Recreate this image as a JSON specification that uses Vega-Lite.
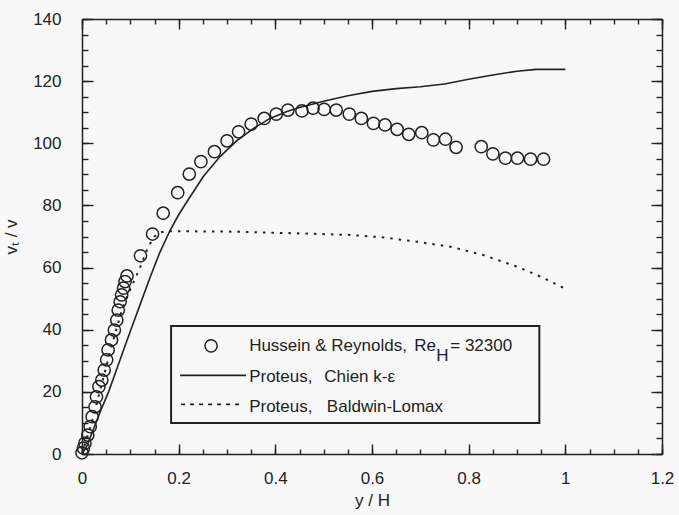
{
  "$schema": "https://vega.github.io/schema/vega-lite/v6.json",
  "width": 580,
  "height": 435,
  "autosize": "none",
  "padding": {"left": 82, "top": 19, "right": 17, "bottom": 61},
  "background": "#f8f8f8",
  "config": {
    "view": {"stroke": null},
    "axis": {
      "grid": false,
      "domainColor": "#222",
      "domainWidth": 1.5,
      "tickColor": "#222",
      "tickWidth": 1.4,
      "labelFont": "Liberation Sans",
      "labelFontSize": 17,
      "labelColor": "#222",
      "titleFont": "Liberation Sans",
      "titleFontSize": 17,
      "titleFontWeight": "normal",
      "titleColor": "#222",
      "labelFlush": false,
      "labelOverlap": false
    }
  },
  "datasets": {
    "hr": [
      {"x": 0.0, "y": 0.4}, {"x": 0.003, "y": 1.9}, {"x": 0.006, "y": 3.5}, {"x": 0.012, "y": 6.1},
      {"x": 0.017, "y": 8.8}, {"x": 0.021, "y": 12.0}, {"x": 0.027, "y": 15.2}, {"x": 0.030, "y": 18.4},
      {"x": 0.035, "y": 21.7}, {"x": 0.041, "y": 23.8}, {"x": 0.046, "y": 27.0}, {"x": 0.051, "y": 30.3},
      {"x": 0.054, "y": 33.5}, {"x": 0.061, "y": 36.7}, {"x": 0.067, "y": 39.9}, {"x": 0.072, "y": 43.1},
      {"x": 0.075, "y": 46.3}, {"x": 0.079, "y": 49.0}, {"x": 0.082, "y": 51.2}, {"x": 0.086, "y": 53.4},
      {"x": 0.089, "y": 55.5}, {"x": 0.093, "y": 57.3}, {"x": 0.121, "y": 63.8}, {"x": 0.146, "y": 70.8},
      {"x": 0.168, "y": 77.5}, {"x": 0.198, "y": 84.1}, {"x": 0.222, "y": 90.1}, {"x": 0.246, "y": 94.1},
      {"x": 0.274, "y": 97.3}, {"x": 0.300, "y": 100.8}, {"x": 0.324, "y": 103.7}, {"x": 0.350, "y": 106.2},
      {"x": 0.377, "y": 108.0}, {"x": 0.402, "y": 109.4}, {"x": 0.426, "y": 110.7}, {"x": 0.455, "y": 110.4},
      {"x": 0.478, "y": 111.3}, {"x": 0.501, "y": 110.9}, {"x": 0.526, "y": 110.7}, {"x": 0.553, "y": 109.4},
      {"x": 0.578, "y": 108.0}, {"x": 0.603, "y": 106.4}, {"x": 0.627, "y": 105.9}, {"x": 0.652, "y": 104.5},
      {"x": 0.676, "y": 102.9}, {"x": 0.703, "y": 103.4}, {"x": 0.727, "y": 101.1}, {"x": 0.752, "y": 101.3},
      {"x": 0.774, "y": 98.7}, {"x": 0.826, "y": 98.9}, {"x": 0.850, "y": 96.6}, {"x": 0.876, "y": 95.2},
      {"x": 0.901, "y": 95.2}, {"x": 0.928, "y": 94.9}, {"x": 0.955, "y": 94.9}
    ],
    "chien": [
      {"x": 0.0, "y": 0.0}, {"x": 0.01, "y": 2.5}, {"x": 0.02, "y": 6.5}, {"x": 0.03, "y": 10.5},
      {"x": 0.04, "y": 14.5}, {"x": 0.055, "y": 20.0}, {"x": 0.078, "y": 30.0}, {"x": 0.1, "y": 39.5},
      {"x": 0.12, "y": 48.0}, {"x": 0.14, "y": 56.5}, {"x": 0.16, "y": 64.5}, {"x": 0.181, "y": 71.6},
      {"x": 0.2, "y": 77.0}, {"x": 0.217, "y": 81.2}, {"x": 0.251, "y": 89.3}, {"x": 0.286, "y": 95.8},
      {"x": 0.32, "y": 100.8}, {"x": 0.355, "y": 104.8}, {"x": 0.389, "y": 108.0}, {"x": 0.424, "y": 110.2},
      {"x": 0.45, "y": 111.5}, {"x": 0.5, "y": 113.5}, {"x": 0.55, "y": 115.3}, {"x": 0.6, "y": 116.7},
      {"x": 0.65, "y": 117.6}, {"x": 0.7, "y": 118.2}, {"x": 0.75, "y": 119.1}, {"x": 0.8, "y": 120.6},
      {"x": 0.85, "y": 122.0}, {"x": 0.9, "y": 123.2}, {"x": 0.94, "y": 123.8}, {"x": 1.0, "y": 123.8}
    ],
    "bl": [
      {"x": 0.0, "y": 0.0}, {"x": 0.01, "y": 5.0}, {"x": 0.02, "y": 10.0}, {"x": 0.03, "y": 16.0},
      {"x": 0.04, "y": 22.0}, {"x": 0.05, "y": 28.0}, {"x": 0.06, "y": 34.0}, {"x": 0.07, "y": 39.5},
      {"x": 0.08, "y": 45.0}, {"x": 0.09, "y": 49.5}, {"x": 0.1, "y": 53.0}, {"x": 0.11, "y": 56.5},
      {"x": 0.12, "y": 60.0}, {"x": 0.137, "y": 66.7}, {"x": 0.15, "y": 70.0}, {"x": 0.16, "y": 71.3},
      {"x": 0.175, "y": 71.7}, {"x": 0.3, "y": 71.6}, {"x": 0.45, "y": 71.0}, {"x": 0.555, "y": 70.5},
      {"x": 0.624, "y": 69.7}, {"x": 0.693, "y": 68.3}, {"x": 0.762, "y": 66.7}, {"x": 0.831, "y": 64.0},
      {"x": 0.9, "y": 60.3}, {"x": 0.95, "y": 57.0}, {"x": 1.0, "y": 53.2}
    ],
    "box": [{"x": 0.1843, "x2": 0.9462, "y": 41.2, "y2": 10.0}],
    "solidSample": [{"x": 0.203, "x2": 0.3395, "y": 25.3}],
    "dotSample": [{"x": 0.205, "x2": 0.325, "y": 16.0}],
    "symSample": [{"x": 0.267, "y": 34.8}],
    "texts": [
      {"x": 0.3458, "y": 34.6, "t": "Hussein & Reynolds,"},
      {"x": 0.6874, "y": 34.6, "t": "Re"},
      {"x": 0.7329, "y": 31.4, "t": "H"},
      {"x": 0.7619, "y": 34.6, "t": "= 32300"},
      {"x": 0.3458, "y": 24.9, "t": "Proteus,"},
      {"x": 0.501, "y": 24.9, "t": "Chien k-ε"},
      {"x": 0.3458, "y": 15.0, "t": "Proteus,"},
      {"x": 0.5066, "y": 15.0, "t": "Baldwin-Lomax"}
    ]
  },
  "resolve": {"axis": {"x": "independent", "y": "independent"}},
  "layer": [
    {
      "data": {"name": "chien"},
      "mark": {"type": "line", "color": "#222", "strokeWidth": 1.6},
      "encoding": {
        "x": {"field": "x", "type": "quantitative", "scale": {"domain": [0, 1.2], "nice": false, "zero": false},
          "axis": {"orient": "bottom", "values": [0, 0.2, 0.4, 0.6, 0.8, 1, 1.2], "format": "~g", "tickSize": -10, "labelPadding": 26, "title": "y / H", "titleY": 38}},
        "y": {"field": "y", "type": "quantitative", "scale": {"domain": [0, 140], "nice": false, "zero": false},
          "axis": {"orient": "left", "values": [0, 20, 40, 60, 80, 100, 120, 140], "format": "d", "tickSize": -11, "labelPadding": 32, "title": "vₜ / v", "titleX": -62}}
      }
    },
    {
      "data": {"name": "bl"},
      "mark": {"type": "line", "color": "#222", "strokeWidth": 2, "strokeDash": [2.5, 6]},
      "encoding": {
        "x": {"field": "x", "type": "quantitative", "scale": {"domain": [0, 1.2], "nice": false, "zero": false},
          "axis": {"orient": "bottom", "values": [0, 0.05, 0.1, 0.15, 0.2, 0.25, 0.3, 0.35, 0.4, 0.45, 0.5, 0.55, 0.6, 0.65, 0.7, 0.75, 0.8, 0.85, 0.9, 0.95, 1, 1.05, 1.1, 1.15, 1.2], "tickSize": -5, "labels": false, "domain": false, "title": null}},
        "y": {"field": "y", "type": "quantitative", "scale": {"domain": [0, 140], "nice": false, "zero": false},
          "axis": {"orient": "left", "values": [0, 5, 10, 15, 20, 25, 30, 35, 40, 45, 50, 55, 60, 65, 70, 75, 80, 85, 90, 95, 100, 105, 110, 115, 120, 125, 130, 135, 140], "tickSize": -6, "labels": false, "domain": false, "title": null}}
      }
    },
    {
      "data": {"name": "hr"},
      "mark": {"type": "point", "shape": "circle", "filled": false, "color": "#222", "size": 150, "strokeWidth": 1.5, "opacity": 1},
      "encoding": {
        "x": {"field": "x", "type": "quantitative", "scale": {"domain": [0, 1.2], "nice": false, "zero": false},
          "axis": {"orient": "top", "values": [0, 0.2, 0.4, 0.6, 0.8, 1, 1.2], "tickSize": -10, "labels": false, "title": null}},
        "y": {"field": "y", "type": "quantitative", "scale": {"domain": [0, 140], "nice": false, "zero": false},
          "axis": {"orient": "right", "values": [0, 20, 40, 60, 80, 100, 120, 140], "tickSize": -11, "labels": false, "title": null}}
      }
    },
    {
      "data": {"name": "box"},
      "mark": {"type": "rect", "fill": "#f8f8f8", "stroke": "#222", "strokeWidth": 2},
      "encoding": {
        "x": {"field": "x", "type": "quantitative", "scale": {"domain": [0, 1.2], "nice": false, "zero": false},
          "axis": {"orient": "top", "values": [0, 0.05, 0.1, 0.15, 0.2, 0.25, 0.3, 0.35, 0.4, 0.45, 0.5, 0.55, 0.6, 0.65, 0.7, 0.75, 0.8, 0.85, 0.9, 0.95, 1, 1.05, 1.1, 1.15, 1.2], "tickSize": -5, "labels": false, "domain": false, "title": null}},
        "x2": {"field": "x2"},
        "y": {"field": "y", "type": "quantitative", "scale": {"domain": [0, 140], "nice": false, "zero": false},
          "axis": {"orient": "right", "values": [0, 5, 10, 15, 20, 25, 30, 35, 40, 45, 50, 55, 60, 65, 70, 75, 80, 85, 90, 95, 100, 105, 110, 115, 120, 125, 130, 135, 140], "tickSize": -6, "labels": false, "domain": false, "title": null}},
        "y2": {"field": "y2"}
      }
    },
    {
      "data": {"name": "solidSample"},
      "mark": {"type": "rule", "color": "#222", "strokeWidth": 1.6},
      "encoding": {
        "x": {"field": "x", "type": "quantitative", "axis": null},
        "x2": {"field": "x2"},
        "y": {"field": "y", "type": "quantitative", "axis": null}
      }
    },
    {
      "data": {"name": "dotSample"},
      "mark": {"type": "rule", "color": "#222", "strokeWidth": 1.8, "strokeDash": [4, 5]},
      "encoding": {
        "x": {"field": "x", "type": "quantitative", "axis": null},
        "x2": {"field": "x2"},
        "y": {"field": "y", "type": "quantitative", "axis": null}
      }
    },
    {
      "data": {"name": "symSample"},
      "mark": {"type": "point", "shape": "circle", "filled": false, "color": "#222", "size": 150, "strokeWidth": 1.5, "opacity": 1},
      "encoding": {
        "x": {"field": "x", "type": "quantitative", "axis": null},
        "y": {"field": "y", "type": "quantitative", "axis": null}
      }
    },
    {
      "data": {"name": "texts"},
      "mark": {"type": "text", "align": "left", "baseline": "middle", "font": "Liberation Sans", "fontSize": 17, "color": "#222"},
      "encoding": {
        "x": {"field": "x", "type": "quantitative", "axis": null},
        "y": {"field": "y", "type": "quantitative", "axis": null},
        "text": {"field": "t"}
      }
    }
  ]
}
